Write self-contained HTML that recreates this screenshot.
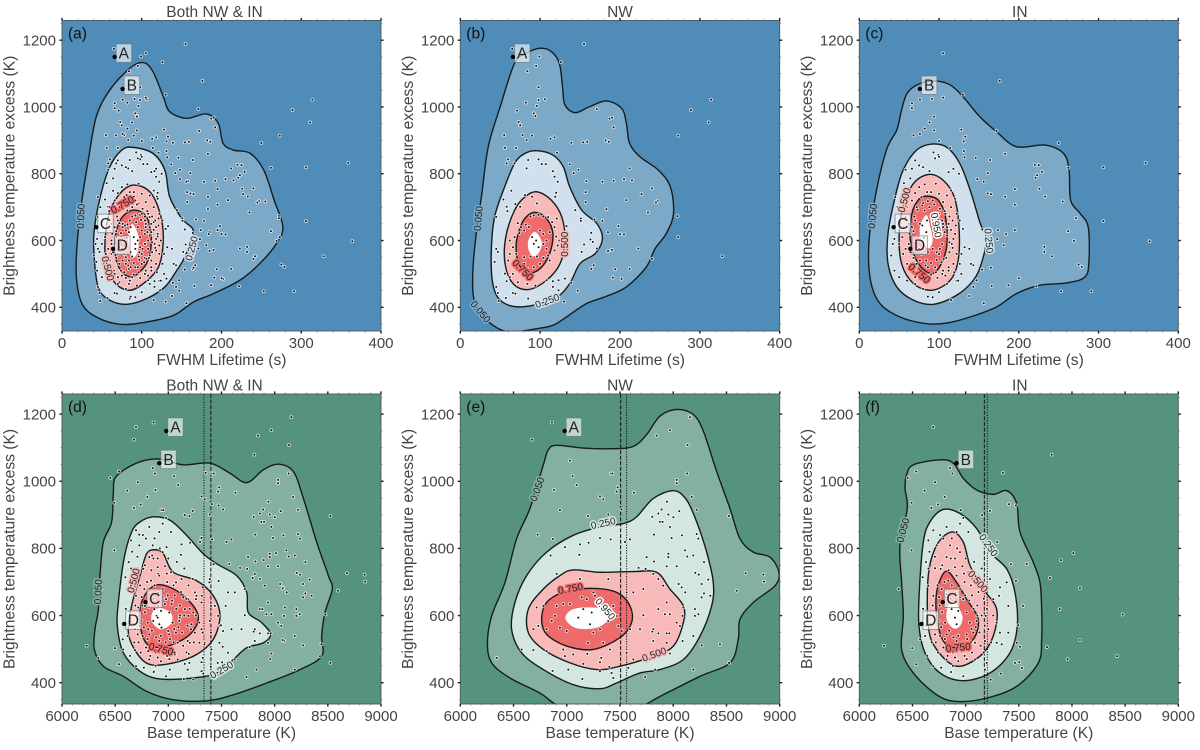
<!DOCTYPE html>
<html lang="en">
<head>
<meta charset="utf-8">
<title>Brightness temperature excess density panels</title>
<style>
html,body{margin:0;padding:0;background:#fff;}
#figure{display:block;width:1200px;height:750px;font-family:"Liberation Sans",Arial,sans-serif;}
</style>
</head>
<body>
<svg id="figure" xmlns="http://www.w3.org/2000/svg" width="1200" height="750" viewBox="0 0 1200 750"></svg>
<script>
/* ---------- tick labels ---------- */
const lifetimeTicks = [0,100,200,300,400];
const temperatureTicks = [6000,6500,7000,7500,8000,8500,9000];
const excessTicks = [400,600,800,1000,1200];

/* ---------- scatter values: [x, brightness temperature excess] ---------- */
const lifetimeNW = [[155,1189],[65,1174],[99,1151],[126,1134],[95,1123],[84,1107],[98,1059],[82,1013],[71,989],[98,1021],[106,1023],[96,1003],[92,981],[94,973],[73,955],[75,945],[55,916],[78,916],[90,914],[83,901],[113,905],[118,909],[56,878],[70,877],[139,893],[154,894],[159,896],[182,900],[186,896],[273,914],[311,954],[289,991],[314,1022],[171,994],[187,965],[190,968],[192,939],[121,863],[137,828],[148,812],[142,802],[212,816],[205,784],[215,780],[192,779],[178,776],[158,778],[227,739],[240,756],[157,745],[208,721],[247,718],[245,714],[157,715],[183,694],[235,684],[272,673],[273,610],[328,553],[198,643],[200,619],[205,618],[185,625],[168,663],[178,659],[223,576],[190,572],[185,569],[240,545],[194,514],[212,515],[191,489],[202,485],[147,450],[130,417],[139,473],[167,526],[164,515],
[68,831],[58,831],[60,843],[85,841],[98,843],[102,829],[107,829],[83,816],[116,808],[118,791],[122,776],[120,743],[119,731],[54,723],[64,749],[69,709],[81,736],[90,731],[58,701],[59,688],[45,671],[75,701],[96,711],[121,666],[144,691],[151,666],[151,659],[133,643],[164,623],[163,603],[166,596],[155,588],[152,566],[171,576],[45,575],[47,566],[43,536],[56,501],[58,478],[45,461],[47,443],[48,419],[57,428],[66,443],[85,426],[69,441],[108,481],[116,478],[123,481],[131,486],[116,461],[123,451],
[72,652],[76,640],[82,648],[88,672],[92,675],[98,677],[104,672],[110,670],[115,655],[118,640],[112,625],[120,612],[124,600],[122,585],[118,570],[110,555],[104,548],[96,552],[88,552],[80,550],[70,560],[66,580],[62,600],[68,610],[74,622],[80,630],[86,640],[90,610],[95,600],[92,590],[98,580],[100,630],[104,620],[108,600],[104,590],[108,575],[112,540],[100,530],[92,520],[84,515],[74,510],[66,500],[62,490],[72,475],[84,470],[94,465],[80,530],[70,530],[60,540],[62,560]];

const lifetimeIN = [[105,1161],[176,1078],[130,1037],[105,1028],[91,1024],[76,1022],[66,1011],[66,996],[94,971],[88,954],[82,935],[94,930],[68,915],[76,919],[100,898],[128,932],[133,911],[131,897],[114,877],[131,868],[132,849],[146,848],[164,841],[183,860],[250,892],[172,928],[306,819],[359,833],[306,658],[364,598],[291,448],[253,448],[222,463],[187,466],[166,464],[200,487],[156,412],[138,434],[115,422],[143,461],[122,479],[147,481],[154,513],[165,519],[143,526],[242,553],[232,566],[232,581],[269,599],[262,628],[272,667],[255,717],[233,732],[226,755],[229,806],[225,826],[220,827],[223,796],[221,788],[262,818],[195,754],[195,707],[183,731],[165,739],[161,741],[161,802],[156,776],[148,784],[195,631],[184,619],[181,586],[174,631],[173,604],[154,633],[275,528],[279,521],
[93,864],[99,856],[95,846],[100,851],[70,840],[58,812],[66,815],[75,825],[80,820],[88,808],[118,815],[112,805],[125,800],[56,772],[64,786],[75,760],[82,768],[96,770],[70,742],[85,745],[100,740],[110,735],[115,750],[120,725],[45,730],[48,700],[60,700],[72,700],[80,712],[92,720],[105,715],[115,700],[122,680],[126,660],[130,635],[132,580],[138,575],[128,560],[120,620],[112,650],[104,660],[100,680],[95,640],[105,640],[98,610],[104,590],[92,575],[100,560],[106,545],[118,530],[128,500],[124,480],[140,530],[44,605],[42,590],[40,555],[44,510],[50,490],[60,480],[70,470],[80,455],[86,432],[92,430],[100,445],[85,480],[75,495],[65,510],[60,530],[55,560],[50,590],[62,590],[66,570],[78,560],[84,540],[95,520],[105,510],[72,530],[62,650],[70,660],[76,650],[82,690],[88,700],[56,640],[68,628],[74,612],[78,598],[72,580],[80,575],[86,520],[90,498],[98,488],[108,495],[112,520],[116,590],[110,615],[108,680],[90,745],[78,730],[66,720],[58,670],[52,640],[54,610],[58,575],
[69,672],[73,692],[79,705],[86,718],[94,708],[101,695],[107,688],[113,672],[117,660],[121,645],[115,632],[118,605],[113,595],[117,578],[113,565],[109,548],[103,535],[97,542],[90,533],[83,525],[76,540],[68,548],[64,565],[63,620],[66,640],[71,600],[75,575],[81,608],[84,625],[79,645],[85,660],[93,655],[99,662],[105,650],[110,640],[107,625],[101,575],[97,565],[86,565],[112,510],[104,500],[96,505],[88,490],[80,488],[70,490],[78,505],[122,560],[126,530],[119,505],[110,470]];

const temperatureNW = [[6861,1175],[6676,1124],[8157,1191],[7969,1152],[7844,1136],[8135,1108],[7030,1061],[7055,1015],[7093,989],[7412,1023],[7428,1023],[8132,1023],[8032,1004],[8032,994],[7631,966],[7478,982],[7468,969],[6880,974],[7312,955],[7343,946],[8173,953],[6936,914],[7199,896],[7390,901],[7515,916],[8220,915],[8524,897],[6726,841],[6870,828],[7941,939],[7891,916],[7860,904],[7954,901],[8001,893],[8057,911],[7803,894],[7875,879],[7900,879],[7969,864],[7819,841],[7985,831],[8082,839],[8220,843],[8236,829],[7312,831],[7412,827],[7547,819],[7594,827],[6983,804],[7124,812],[7205,817],[6848,779],[7118,781],[7750,774],[7819,761],[7954,784],[7954,774],[8110,794],[8132,776],[8189,779],[8032,747],[7938,747],[8289,759],[7675,742],[7741,739],[8680,726],[8846,722],[8852,701],[8596,674],[8207,727],[8239,722],[8329,707],[8267,694],[8051,694],[8079,684],[8113,669],[8289,666],[8267,654],[8348,659],[8095,624],[8204,619],[8236,604],[8204,599],[8088,599],[7969,604],[7922,604],[7860,619],[7719,601],[7803,552],[7860,547],[7938,547],[7963,547],[7813,524],[7938,519],[7969,487],[8088,524],[8189,539],[8267,511],[8439,514],[8524,459],[8189,439],[7829,439],[7735,417],[7578,444],[6341,474],[6576,499],[6686,497],[6811,494],[6867,435],[7146,411],[7014,439],[7437,414],[7421,429],[7312,434],[7400,447],[7312,461],[7155,456],[6967,499],[6983,479],[7061,484],[7193,486],[7324,474],[7562,489],[7625,469],
[6717,624],[6733,569],[6686,559],[6811,559],[6780,629],[6905,629],[6967,634],[7030,634],[6889,599],[6858,584],[6936,564],[6999,554],[7140,654],[7187,649],[7250,669],[7265,659],[7312,639],[7437,629],[7468,599],[7484,569],[7390,584],[7312,559],[7250,549],[7202,519],[7515,554],[7594,559],[7390,709],[7124,709],[6905,724],[7562,669],[7625,669],[7155,619],[7234,609],[7108,594],[7218,574],[7343,519],[7405,499],[7813,724],[7906,689],[7938,639],[7719,679],[7860,709],[8032,579],[8063,569],[7813,559],[7688,559]];

const temperatureIN = [[6696,1162],[7809,1079],[7351,1025],[6853,1039],[6875,1023],[6536,1029],[6455,1010],[6712,997],[6614,972],[6492,936],[6803,953],[6677,921],[6740,931],[6953,914],[7154,899],[7229,912],[7408,932],[7473,928],[7298,819],[6492,794],[8013,786],[7897,765],[7574,754],[7426,753],[7793,712],[7473,703],[8075,681],[6370,679],[7884,619],[8477,603],[7539,629],[7495,571],[6232,510],[8075,527],[8426,479],[7959,470],[7765,506],[6498,503],[6536,455],[7505,461],[7530,444],[7464,459],[7480,519],[7511,507],[7235,409],[7329,427],[6978,419],[6862,432],
[6696,854],[6821,864],[6978,891],[6947,874],[7025,849],[6915,849],[6790,829],[6649,824],[6727,809],[6853,809],[6947,789],[6627,759],[6596,714],[6649,689],[6712,741],[6765,739],[6900,744],[6969,747],[6821,774],[7025,729],[6915,719],[6774,679],[6837,704],[7072,699],[7229,709],[7323,684],[7386,699],[7314,659],[7260,649],[7401,629],[7292,579],[7401,549],[7339,514],[7182,524],[7189,599],[7213,559],[7103,584],[7041,579],[7009,609],[6978,649],[6947,679],[6821,664],[6696,659],[6727,599],[6759,539],[6821,544],[6915,524],[7009,544],[7072,549],[7088,519],[6931,464],[6821,469],[7088,469],[7198,459],[7182,439],[6696,449],[6571,529],[6618,539],[6868,619],[6900,594],[6915,574],[6931,614],[6806,579],[6712,544],[7292,519],[7323,549],
[6640,610],[6690,630],[6750,655],[6800,640],[6870,690],[6990,700],[7060,660],[7110,630],[7150,600],[7130,550],[7050,520],[6960,500],[6880,490],[6790,505],[6720,520],[6670,575],[6650,740],[6710,775],[6780,750],[6860,770],[6920,800],[7000,770],[7080,760],[7150,740],[7190,690],[7260,600],[7240,520],[7170,490],[7010,470],[6880,450],[6770,445],[6640,480],[6600,620],[6660,790],[6760,840],[6870,830],
[6780,610],[6820,625],[6860,650],[6905,668],[6945,655],[6995,660],[7035,645],[7075,620],[7110,600],[7095,565],[7055,560],[7015,530],[6975,520],[6930,540],[6885,535],[6845,555],[6805,530],[6770,565],[6745,585],[6755,630],[6735,690],[6800,700],[6840,735],[6900,770],[6985,725],[7050,690],[7120,670],[7170,650],[7200,620],[7180,570],[7140,510],[7060,490],[6990,480],[6900,475],[6830,480],[6740,490],[6680,520],[6630,570]];

/* ---------- named event markers ---------- */
const lifetimeMarkers = [['A',66,1150],['B',76,1054],['C',43,640],['D',64,575]];
const temperatureMarkers = [['A',6980,1150],['B',6915,1054],['C',6785,640],['D',6585,575]];

/* ---------- density contours per panel (data coordinates) ---------- */
const contourA050 = [[102,1133],[114,1106],[127,1031],[135,986],[156,966],[181,979],[196,951],[202,891],[215,871],[236,861],[253,811],[266,721],[277,641],[269,591],[248,531],[223,481],[190,441],[165,416],[140,376],[106,356],[73,349],[43,371],[25,411],[18,491],[19,591],[25,721],[33,841],[43,971],[60,1051],[85,1116]];
const contourA250 = [[89,879],[114,861],[129,811],[135,731],[150,666],[165,626],[154,551],[144,511],[129,461],[106,426],[81,409],[60,421],[46,456],[41,531],[40,621],[48,731],[60,821],[75,871]];
const contourA500 = [[89,766],[110,746],[123,681],[127,601],[121,521],[102,471],[83,451],[64,481],[54,561],[58,671],[71,736]];
const contourA750 = [[89,691],[106,671],[112,601],[106,531],[87,491],[71,521],[66,591],[73,661]];
const contourA950 = [[89,649],[96,611],[94,561],[87,551],[83,601],[85,636]];

const contourB050 = [[100,1176],[114,1166],[124,1131],[128,1061],[131,1006],[144,983],[162,1001],[183,1018],[202,996],[208,951],[212,891],[225,851],[248,811],[263,761],[267,681],[258,621],[244,576],[233,521],[208,461],[183,433],[158,411],[133,371],[116,346],[96,336],[62,326],[41,346],[22,391],[16,441],[16,521],[20,621],[27,741],[35,881],[50,1001],[68,1131],[83,1161]];
const contourB250 = [[96,869],[116,856],[129,821],[137,761],[152,691],[171,651],[178,606],[169,561],[150,531],[137,471],[121,431],[91,406],[66,403],[48,426],[40,481],[39,581],[43,671],[54,751],[68,831],[81,861]];
const contourB500 = [[96,746],[114,721],[127,671],[131,601],[125,531],[108,481],[85,453],[66,471],[56,531],[57,611],[68,691],[81,731]];
const contourB750 = [[95,684],[108,666],[116,621],[112,561],[100,516],[85,503],[73,531],[70,591],[77,651],[85,676]];
const contourB950 = [[94,626],[102,596],[99,566],[91,553],[85,576],[86,606]];

const contourC050 = [[95,1078],[114,1066],[130,1031],[151,971],[172,926],[197,881],[233,886],[256,861],[263,811],[265,721],[277,681],[287,641],[288,541],[283,491],[260,473],[226,466],[197,441],[172,401],[139,371],[110,353],[84,351],[51,371],[26,411],[14,481],[12,591],[20,731],[34,871],[47,931],[53,991],[60,1041],[74,1068]];
const contourC250 = [[91,889],[110,879],[126,831],[139,751],[151,656],[159,601],[153,531],[143,481],[122,436],[93,409],[68,421],[47,461],[36,531],[36,621],[45,731],[55,811],[72,871]];
const contourC500 = [[87,798],[105,781],[119,731],[125,641],[124,541],[114,481],[91,451],[68,471],[53,531],[50,621],[55,701],[68,771]];
const contourC750 = [[84,733],[99,721],[108,671],[110,591],[103,531],[91,501],[74,531],[64,601],[66,681],[74,721]];
const contourC950 = [[84,676],[89,641],[92,601],[87,576],[78,601],[76,641]];

const contourD050 = [[6498,1009],[6608,1039],[6765,1061],[6922,1066],[7141,1049],[7392,1054],[7580,1024],[7737,996],[7893,1034],[8035,1051],[8176,1029],[8270,949],[8395,819],[8505,719],[8542,679],[8473,609],[8442,539],[8442,479],[8238,439],[7925,399],[7611,364],[7360,346],[7047,349],[6796,374],[6577,419],[6389,449],[6304,499],[6310,559],[6342,619],[6357,719],[6389,819],[6467,879],[6483,969]];
const contourD250 = [[6859,894],[7016,884],[7172,839],[7329,784],[7455,754],[7643,719],[7737,669],[7752,609],[7878,579],[7962,544],[7894,519],[7737,504],[7611,469],[7455,429],[7235,414],[6922,411],[6734,434],[6577,489],[6520,569],[6530,639],[6583,769],[6655,849],[6734,879]];
const contourD500 = [[6875,796],[6953,784],[7047,729],[7266,704],[7423,659],[7486,599],[7423,529],[7266,484],[7047,459],[6828,454],[6702,489],[6624,549],[6655,629],[6734,719],[6796,784]];
const contourD750 = [[6906,692],[7078,674],[7235,629],[7282,589],[7204,544],[7016,511],[6828,509],[6749,549],[6734,619],[6796,669]];
const contourD950 = [[6937,622],[7031,604],[7022,574],[6922,559],[6843,584],[6859,614]];

const contourE050 = [[6905,1107],[7155,1099],[7437,1097],[7625,1104],[7750,1139],[7875,1194],[8032,1214],[8189,1199],[8283,1149],[8408,1029],[8533,919],[8627,829],[8752,789],[8909,774],[8993,729],[8956,689],[8752,639],[8627,589],[8611,529],[8533,459],[8252,419],[7875,359],[7688,329],[7300,300],[6936,329],[6749,369],[6467,414],[6295,459],[6255,519],[6295,599],[6420,699],[6529,829],[6654,919],[6780,1049],[6827,1094]];
const contourE250 = [[8006,972],[8126,944],[8220,879],[8314,789],[8376,699],[8361,629],[8252,539],[8095,469],[7875,439],[7688,429],[7468,399],[7312,382],[7061,394],[6780,439],[6576,489],[6482,559],[6513,639],[6623,719],[6811,789],[7061,839],[7312,864],[7531,874],[7656,894],[7813,949]];
const contourE500 = [[7061,736],[7312,729],[7625,731],[7844,729],[7969,679],[8095,629],[8095,579],[8001,509],[7813,479],[7500,449],[7281,439],[7030,459],[6780,499],[6639,549],[6639,619],[6780,679],[6936,719]];
const contourE750 = [[7218,681],[7468,669],[7593,629],[7609,579],[7499,534],[7249,499],[6999,509],[6811,544],[6764,589],[6811,639],[6967,669]];
const contourE950 = [[7155,624],[7343,619],[7390,589],[7281,564],[7093,562],[6989,589],[7030,614]];

const contourF050 = [[6445,1019],[6508,1049],[6759,1064],[6884,1054],[6978,1009],[7104,974],[7260,961],[7386,972],[7480,934],[7511,849],[7636,759],[7699,699],[7715,619],[7715,529],[7684,459],[7480,389],[7198,354],[6915,344],[6727,364],[6508,429],[6398,499],[6414,599],[6398,699],[6382,809],[6451,919],[6430,979]];
const contourF250 = [[6790,916],[6947,904],[7104,859],[7229,789],[7386,739],[7464,669],[7486,569],[7417,489],[7229,429],[6978,406],[6759,429],[6618,489],[6561,569],[6564,669],[6602,819],[6665,879]];
const contourF500 = [[6868,849],[6978,819],[7041,749],[7166,679],[7292,619],[7260,539],[7135,479],[6915,449],[6727,499],[6649,569],[6649,719],[6727,809]];
const contourF750 = [[6815,732],[6915,699],[7009,649],[7119,589],[7072,529],[6915,504],[6790,524],[6727,599],[6733,679]];
const contourF950 = [[6900,639],[6969,599],[6947,569],[6884,562],[6821,589],[6837,629]];

/* ---------- contour labels: [text, x, y, rotation] ---------- */
const labelsA = [['0.050',24,673,-88],['0.250',163,576,-75],['0.500',57,516,75],['0.750',76,706,-30]];
const labelsB = [['0.050',23,666,-85],['0.050',25,386,50],['0.250',109,418,-20],['0.500',131,589,-90],['0.750',78,511,45]];
const labelsC = [['0.050',17,673,-85],['0.250',162,599,85],['0.500',57,721,-75],['0.750',75,501,40],['0.950',96,646,80]];
const labelsD = [['0.050',6342,671,-88],['0.500',6677,704,-75],['0.750',6931,499,15],['0.250',7502,437,-30]];
const labelsE = [['0.050',6726,976,-70],['0.250',7343,874,-12],['0.750',7036,679,-10],['0.500',7822,483,-20],['0.950',7359,619,50]];
const labelsF = [['0.050',6414,854,-75],['0.250',7213,809,55],['0.500',7113,701,50],['0.750',6931,504,-5]];

/* ---------- reference temperatures drawn as vertical lines ---------- */
const dashedLineValues = {d:7400,e:7506,f:7176};
const dottedLineValues = {d:7335,e:7562,f:7204};

/* ---------- panel layout ---------- */
const bluePalette = ['#4f8db8','#7ca9c8','#d0e0ec','#f8b9b9','#ef6b6b','#ffffff'];
const greenPalette = ['#56937f','#84b0a2','#d3e6e0','#f8b9b9','#ef6b6b','#ffffff'];
const row1 = {top:20.5,bottom:331,yMin:329,yMax:1259};
const row2 = {top:394,bottom:704,yMin:336.5,yMax:1260};

const panels = [
 {id:'a',title:'Both NW & IN',titleDx:-7,left:62,right:381,row:row1,xMin:0,xMax:400,xTicks:lifetimeTicks,xMinor:20,xTitle:'FWHM Lifetime (s)',palette:bluePalette,contours:[contourA050,contourA250,contourA500,contourA750,contourA950],labels:labelsA,sets:[lifetimeNW,lifetimeIN],markers:lifetimeMarkers},
 {id:'b',title:'NW',titleDx:0,left:460.3,right:779.7,row:row1,xMin:0,xMax:400,xTicks:lifetimeTicks,xMinor:20,xTitle:'FWHM Lifetime (s)',palette:bluePalette,contours:[contourB050,contourB250,contourB500,contourB750,contourB950],labels:labelsB,sets:[lifetimeNW],markers:lifetimeMarkers.slice(0,1)},
 {id:'c',title:'IN',titleDx:1,left:859.3,right:1178.3,row:row1,xMin:0,xMax:400,xTicks:lifetimeTicks,xMinor:20,xTitle:'FWHM Lifetime (s)',palette:bluePalette,contours:[contourC050,contourC250,contourC500,contourC750,contourC950],labels:labelsC,sets:[lifetimeIN],markers:lifetimeMarkers.slice(1)},
 {id:'d',title:'Both NW & IN',titleDx:-7,left:62,right:381,row:row2,xMin:6000,xMax:9000,xTicks:temperatureTicks,xMinor:100,xTitle:'Base temperature (K)',palette:greenPalette,contours:[contourD050,contourD250,contourD500,contourD750,contourD950],labels:labelsD,sets:[temperatureNW,temperatureIN],markers:temperatureMarkers},
 {id:'e',title:'NW',titleDx:0,left:460.3,right:779.7,row:row2,xMin:6000,xMax:9000,xTicks:temperatureTicks,xMinor:100,xTitle:'Base temperature (K)',palette:greenPalette,contours:[contourE050,contourE250,contourE500,contourE750,contourE950],labels:labelsE,sets:[temperatureNW],markers:temperatureMarkers.slice(0,1)},
 {id:'f',title:'IN',titleDx:1,left:859.3,right:1178.3,row:row2,xMin:6000,xMax:9000,xTicks:temperatureTicks,xMinor:100,xTitle:'Base temperature (K)',palette:greenPalette,contours:[contourF050,contourF250,contourF500,contourF750,contourF950],labels:labelsF,sets:[temperatureIN],markers:temperatureMarkers.slice(1)}
];

const levelIndex = {'0.050':1,'0.250':2,'0.500':3,'0.750':4,'0.950':5};
const NS = 'http://www.w3.org/2000/svg';
const figure = document.getElementById('figure');

function make(tag, parent){
  const node = document.createElementNS(NS, tag);
  parent.appendChild(node);
  return node;
}

function smoothClosedPath(points, sx, sy){
  const n = points.length;
  const px = points.map(function(p){ return [sx(p[0]), sy(p[1])]; });
  let d = 'M' + px[0][0].toFixed(2) + ' ' + px[0][1].toFixed(2);
  for (let i = 0; i < n; i++){
    const p0 = px[(i - 1 + n) % n], p1 = px[i], p2 = px[(i + 1) % n], p3 = px[(i + 2) % n];
    const c1x = p1[0] + (p2[0] - p0[0]) / 6, c1y = p1[1] + (p2[1] - p0[1]) / 6;
    const c2x = p2[0] - (p3[0] - p1[0]) / 6, c2y = p2[1] - (p3[1] - p1[1]) / 6;
    d += 'C' + c1x.toFixed(2) + ' ' + c1y.toFixed(2) + ' ' + c2x.toFixed(2) + ' ' + c2y.toFixed(2) + ' ' + p2[0].toFixed(2) + ' ' + p2[1].toFixed(2);
  }
  return d + 'Z';
}

function drawTick(group, x1, y1, x2, y2, major){
  const tick = make('line', group);
  
  
  tick.setAttribute('x1', x1);
  tick.setAttribute('y1', y1);
  tick.setAttribute('x2', x2);
  tick.setAttribute('y2', y2);
  tick.setAttribute('stroke', major ? '#222' : '#777');
  tick.setAttribute('stroke-width', major ? 1.4 : 0.7);
}

function drawText(parent, name, str, x, y, size, anchor, color){
  const t = make('text', parent);
  
  
  t.setAttribute('x', x);
  t.setAttribute('y', y);
  t.setAttribute('font-size', size);
  t.setAttribute('text-anchor', anchor);
  t.setAttribute('fill', color);
  t.textContent = str;
  return t;
}

function drawPanel(p){
  const top = p.row.top, bottom = p.row.bottom;
  const sx = function(v){ return p.left + (v - p.xMin) / (p.xMax - p.xMin) * (p.right - p.left); };
  const sy = function(v){ return bottom - (v - p.row.yMin) / (p.row.yMax - p.row.yMin) * (bottom - top); };

  const group = make('g', figure);
  
  

  const clip = make('clipPath', group);
  clip.setAttribute('id', 'clip-' + p.id);
  const clipRect = make('rect', clip);
  clipRect.setAttribute('x', p.left);
  clipRect.setAttribute('y', top);
  clipRect.setAttribute('width', p.right - p.left);
  clipRect.setAttribute('height', bottom - top);

  const bg = make('rect', group);
  
  
  bg.setAttribute('x', p.left);
  bg.setAttribute('y', top);
  bg.setAttribute('width', p.right - p.left);
  bg.setAttribute('height', bottom - top);
  bg.setAttribute('fill', p.palette[0]);

  const plot = make('g', group);
  
  
  plot.setAttribute('clip-path', 'url(#clip-' + p.id + ')');

  p.contours.forEach(function(points, i){
    const band = make('path', plot);
    
    
    band.setAttribute('d', smoothClosedPath(points, sx, sy));
    band.setAttribute('fill', p.palette[i + 1]);
    band.setAttribute('stroke', '#151c1c');
    band.setAttribute('stroke-width', i === 4 ? 0 : 1.4);
  });

  if (dashedLineValues[p.id] !== undefined){
    const dashed = make('line', plot);
    
    
    dashed.setAttribute('x1', sx(dashedLineValues[p.id]));
    dashed.setAttribute('x2', sx(dashedLineValues[p.id]));
    dashed.setAttribute('y1', top);
    dashed.setAttribute('y2', bottom);
    dashed.setAttribute('stroke', '#111');
    dashed.setAttribute('stroke-width', 1);
    dashed.setAttribute('stroke-dasharray', '4 1.6');

    const dotted = make('line', plot);
    
    
    dotted.setAttribute('x1', sx(dottedLineValues[p.id]));
    dotted.setAttribute('x2', sx(dottedLineValues[p.id]));
    dotted.setAttribute('y1', top);
    dotted.setAttribute('y2', bottom);
    dotted.setAttribute('stroke', '#111');
    dotted.setAttribute('stroke-width', 1);
    dotted.setAttribute('stroke-dasharray', '1.2 1.4');
  }

  p.sets.forEach(function(set){
    set.forEach(function(pt){
      const halo = make('circle', plot);
      
      
      halo.setAttribute('cx', sx(pt[0]));
      halo.setAttribute('cy', sy(pt[1]));
      halo.setAttribute('r', 1.9);
      halo.setAttribute('fill', '#fff');
      halo.setAttribute('fill-opacity', 0.7);
      const dot = make('circle', plot);
      
      
      dot.setAttribute('cx', sx(pt[0]));
      dot.setAttribute('cy', sy(pt[1]));
      dot.setAttribute('r', 1);
      dot.setAttribute('fill', '#111');
    });
  });

  p.labels.forEach(function(lab){
    const t = drawText(plot, 'contour-label', lab[0], sx(lab[1]), sy(lab[2]) + 3, 10, 'middle', '#222');
    t.setAttribute('transform', 'rotate(' + lab[3] + ' ' + sx(lab[1]) + ' ' + sy(lab[2]) + ')');
    t.setAttribute('stroke', p.palette[levelIndex[lab[0]]]);
    t.setAttribute('stroke-width', 3);
    t.setAttribute('paint-order', 'stroke');
  });

  p.markers.forEach(function(m){
    const mx = sx(m[1]), my = sy(m[2]);
    const box = make('rect', plot);
    
    
    box.setAttribute('x', mx + 1.5);
    box.setAttribute('y', my - 13);
    box.setAttribute('width', 15.5);
    box.setAttribute('height', 18.5);
    box.setAttribute('fill', '#fff');
    box.setAttribute('fill-opacity', 0.62);
    box.setAttribute('stroke', '#5d7480');
    box.setAttribute('stroke-opacity', 0.7);
    box.setAttribute('stroke-width', 0.9);
    const dot = make('circle', plot);
    
    
    dot.setAttribute('cx', mx);
    dot.setAttribute('cy', my);
    dot.setAttribute('r', 2.2);
    dot.setAttribute('fill', '#000');
    drawText(plot, 'event-label-' + m[0].toLowerCase(), m[0], mx + 9.2, my + 1.8, 15.5, 'middle', '#222');
  });

  const frame = make('rect', group);
  
  
  frame.setAttribute('x', p.left);
  frame.setAttribute('y', top);
  frame.setAttribute('width', p.right - p.left);
  frame.setAttribute('height', bottom - top);
  frame.setAttribute('fill', 'none');
  frame.setAttribute('stroke', '#4a5560');
  frame.setAttribute('stroke-width', 0.9);

  const ticks = make('g', group);
  
  
  for (let v = p.xMin; v <= p.xMax; v += p.xMinor){
    const major = p.xTicks.indexOf(v) >= 0;
    const len = major ? 2.6 : 1.5;
    drawTick(ticks, sx(v), bottom, sx(v), bottom + len, major);
    drawTick(ticks, sx(v), top, sx(v), top - len, major);
  }
  for (let v = 350; v <= p.row.yMax; v += 50){
    const major = excessTicks.indexOf(v) >= 0;
    const len = major ? 2.6 : 1.5;
    drawTick(ticks, p.left, sy(v), p.left - len, sy(v), major);
    drawTick(ticks, p.right, sy(v), p.right + len, sy(v), major);
  }

  p.xTicks.forEach(function(v){
    drawText(group, 'x-tick-label', String(v), sx(v), bottom + 17, 15, 'middle', '#444');
  });
  excessTicks.forEach(function(v){
    drawText(group, 'y-tick-label', String(v), p.left - 6, sy(v) + 5.3, 15, 'end', '#444');
  });
  drawText(group, 'x-axis-title', p.xTitle, (p.left + p.right) / 2, bottom + 34, 15.6, 'middle', '#444');
  const yCenter = (top + bottom) / 2;
  const yTitleX = p.left - 47.5;
  const yTitle = drawText(group, 'y-axis-title', 'Brightness temperature excess (K)', yTitleX, yCenter, 15.6, 'middle', '#444');
  yTitle.setAttribute('transform', 'rotate(-90 ' + yTitleX + ' ' + yCenter + ')');
  drawText(group, 'panel-title', p.title, (p.left + p.right) / 2 + p.titleDx, top - 3.5, 15.5, 'middle', '#444');
  drawText(group, 'panel-letter', '(' + p.id + ')', p.left + 6, top + 18, 15.5, 'start', '#111');
}

panels.forEach(drawPanel);
</script>
</body>
</html>
